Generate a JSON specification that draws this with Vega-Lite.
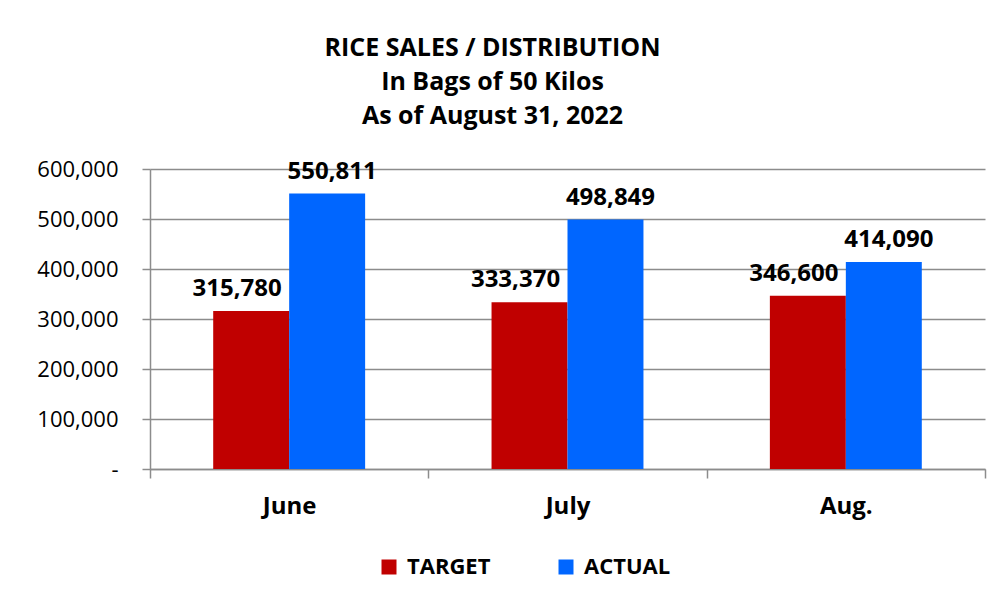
{
  "$schema": "https://vega.github.io/schema/vega-lite/v6.json",
  "autosize": {"type": "none"},
  "width": 835,
  "height": 300,
  "padding": {"left": 150, "top": 169, "right": 15, "bottom": 130},
  "background": "white",
  "title": {
    "text": ["RICE SALES / DISTRIBUTION", "In Bags of 50 Kilos", "As of August 31, 2022"],
    "anchor": "middle",
    "frame": "group",
    "dx": -75,
    "offset": 29,
    "font": "Open Sans",
    "fontSize": 25,
    "fontWeight": "bold",
    "lineHeight": 34,
    "color": "black"
  },
  "data": {
    "values": [
      {"month": "June", "series": "TARGET", "bags": 315780},
      {"month": "June", "series": "ACTUAL", "bags": 550811},
      {"month": "July", "series": "TARGET", "bags": 333370},
      {"month": "July", "series": "ACTUAL", "bags": 498849},
      {"month": "Aug.", "series": "TARGET", "bags": 346600},
      {"month": "Aug.", "series": "ACTUAL", "bags": 414090}
    ]
  },
  "encoding": {
    "x": {
      "field": "month",
      "type": "nominal",
      "sort": ["June", "July", "Aug."],
      "scale": {"paddingInner": 0, "paddingOuter": 0},
      "axis": {
        "title": null,
        "labelAngle": 0,
        "labelFont": "Open Sans",
        "labelFontSize": 24,
        "labelFontWeight": "bold",
        "labelColor": "black",
        "labelPadding": 16,
        "tickBand": "extent",
        "tickSize": 9,
        "tickColor": "#8c8c8c",
        "tickWidth": 1.5,
        "domainColor": "#8c8c8c",
        "domainWidth": 1.5,
        "grid": false
      }
    },
    "xOffset": {
      "field": "series",
      "type": "nominal",
      "sort": ["TARGET", "ACTUAL"],
      "scale": {"paddingInner": 0, "paddingOuter": 0.832}
    },
    "y": {
      "field": "bags",
      "type": "quantitative",
      "scale": {"domain": [0, 600000], "nice": false},
      "axis": {
        "title": null,
        "values": [0, 100000, 200000, 300000, 400000, 500000, 600000],
        "labelExpr": "datum.value == 0 ? '-\u00a0\u00a0' : format(datum.value, ',')",
        "labelFont": "Open Sans",
        "labelFontSize": 22,
        "labelColor": "black",
        "labelPadding": 24,
        "tickSize": 8,
        "tickColor": "#8c8c8c",
        "tickWidth": 1.5,
        "domainColor": "#8c8c8c",
        "domainWidth": 1.5,
        "gridColor": "#8c8c8c",
        "gridWidth": 1.5
      }
    }
  },
  "layer": [
    {
      "mark": {"type": "bar"},
      "encoding": {
        "color": {
          "field": "series",
          "type": "nominal",
          "sort": ["TARGET", "ACTUAL"],
          "scale": {"domain": ["TARGET", "ACTUAL"], "range": ["#c00000", "#0066ff"]},
          "legend": {
            "title": null,
            "orient": "none",
            "direction": "horizontal",
            "legendX": 228,
            "legendY": 387,
            "symbolType": "square",
            "symbolSize": 225,
            "symbolStrokeWidth": 0,
            "labelFont": "Open Sans",
            "labelFontSize": 22,
            "labelFontWeight": "bold",
            "labelColor": "black",
            "labelOffset": 7,
            "columnPadding": 64
          }
        }
      }
    },
    {
      "transform": [{"filter": "datum.series == 'TARGET'"}],
      "mark": {"type": "text", "baseline": "alphabetic", "dy": -15, "dx": -14, "font": "Open Sans", "fontSize": 24, "fontWeight": "bold", "color": "black"},
      "encoding": {"text": {"field": "bags", "type": "quantitative", "format": ","}}
    },
    {
      "transform": [{"filter": "datum.series == 'ACTUAL'"}],
      "mark": {"type": "text", "baseline": "alphabetic", "dy": -15, "dx": 5, "font": "Open Sans", "fontSize": 24, "fontWeight": "bold", "color": "black"},
      "encoding": {"text": {"field": "bags", "type": "quantitative", "format": ","}}
    }
  ],
  "config": {"view": {"stroke": null}}
}
